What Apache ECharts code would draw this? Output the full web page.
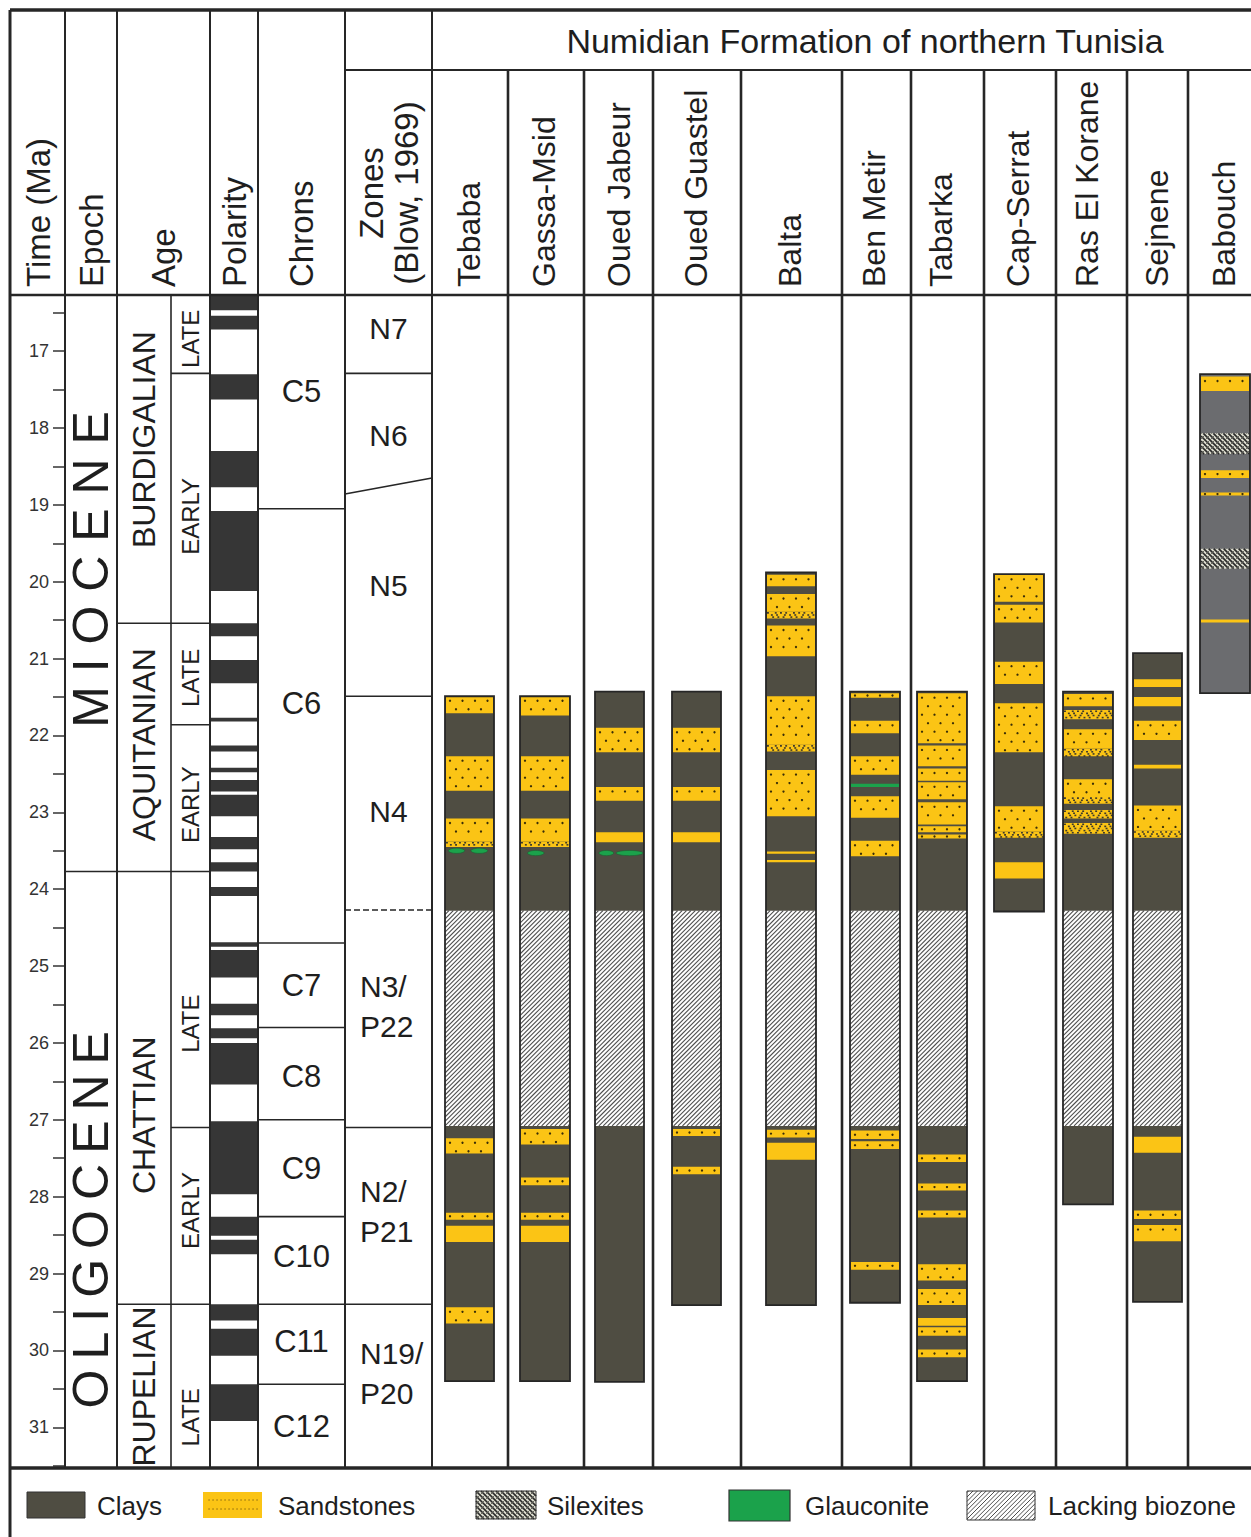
<!DOCTYPE html>
<html><head><meta charset="utf-8">
<script src="https://cdn.jsdelivr.net/npm/echarts@6/dist/echarts.min.js"></script>
<style>html,body{margin:0;padding:0;background:#fff}#chart{width:1251px;height:1537px}</style>
</head><body><div id="chart"></div>
<script>
// ================= DATA (ages in Ma) =================
const timeRange = [16.27, 31.53];
const timeTicks = [17,18,19,20,21,22,23,24,25,26,27,28,29,30,31];
const timeTickMarks = [16.5,17,17.5,18,18.5,19,19.5,20,20.5,21,21.5,22,22.5,23,23.5,24,24.5,25,25.5,26,26.5,27,27.5,28,28.5,29,29.5,30,30.5,31,31.5];

const epochNames = ['M I O C E N E', 'O\u2009L\u2009I\u2009G\u2009O\u2009C\u2009E\u2009N\u2009E'];
const epochSpans = [[16.27, 23.77], [23.77, 31.53]];
const epochLabelAt = [19.84, 28.30];

const ageNames = ['BURDIGALIAN', 'AQUITANIAN', 'CHATTIAN', 'RUPELIAN'];
const ageSpans = [[16.27, 20.54], [20.54, 23.77], [23.77, 29.40], [29.40, 31.53]];
const ageLabelAt = [18.15, 22.12, 26.94, 30.47];

const subAgeNames = ['LATE', 'EARLY', 'LATE', 'EARLY', 'LATE', 'EARLY', 'LATE'];
const subAgeSpans = [[16.27, 17.29], [17.29, 20.54], [20.54, 21.86], [21.86, 23.77], [23.77, 27.10], [27.10, 29.40], [29.40, 31.53]];
const subAgeLabelAt = [16.84, 19.15, 21.25, 22.90, 25.75, 28.18, 30.87];

// normal-polarity (black) intervals
const polarityNormal = [[16.27,16.47],[16.54,16.72],[17.30,17.63],[18.30,18.77],[19.08,20.12],[20.54,20.71],[21.02,21.32],[21.77,21.82],[22.13,22.21],[22.42,22.48],[22.58,22.73],[22.77,23.05],[23.32,23.48],[23.65,23.77],[23.97,24.09],[24.69,24.75],[24.79,25.15],[25.49,25.64],[25.81,25.94],[26.00,26.54],[27.02,27.97],[28.26,28.51],[28.56,28.75],[29.40,29.61],[29.72,30.07],[30.44,30.92]];

const chronNames = ['C5','C6','C7','C8','C9','C10','C11','C12'];
const chronSpans = [[16.27,19.05],[19.05,24.70],[24.70,25.80],[25.80,27.00],[27.00,28.26],[28.26,29.40],[29.40,30.44],[30.44,31.53]];
const chronLabelAt = [17.53, 21.58, 25.25, 26.44, 27.64, 28.78, 29.88, 30.99];

const zoneNames = ['N7','N6','N5','N4','N3/\nP22','N2/\nP21','N19/\nP20'];
const zoneLabelAt = [16.70, 18.10, 20.05, 22.99, 25.53, 28.19, 30.30];
// boundaries: [age at left edge, age at right edge, dashed]
const zoneBoundaries = [[17.29,17.29,0],[18.86,18.65,0],[21.49,21.49,0],[24.27,24.27,1],[27.10,27.10,0],[29.40,29.40,0]];

const sectionNames = ['Tebaba','Gassa-Msid','Oued Jabeur','Oued Guastel','Balta','Ben Metir','Tabarka','Cap-Serrat','Ras El Korane','Sejnene','Babouch'];
const sectionTop  = [21.49, 21.49, 21.43, 21.43, 19.88, 21.43, 21.43, 19.90, 21.43, 20.93, 17.30];
const sectionBase = [30.40, 30.40, 30.41, 29.41, 29.41, 29.38, 30.40, 24.29, 28.10, 29.37, 21.45];
// [section index, from, to]
const lackingBiozone = [[0,24.28,27.08],[1,24.28,27.08],[2,24.28,27.08],[3,24.28,27.08],[4,24.28,27.08],[5,24.28,27.08],[6,24.28,27.08],[8,24.28,27.08],[9,24.28,27.08]];

// beds: [from, to, kind]  kind 1 = sandstone, 2 = sandstone (massive), 3 = sandy clays, 4 = silexites
const bedsTebaba = [[21.49,21.71,1],[22.27,22.72,1],[23.08,23.38,1],[23.38,23.45,3],[27.24,27.44,1],[28.21,28.30,1],[28.38,28.59,1],[29.44,29.65,1]];
const bedsGassaMsid = [[21.49,21.74,1],[22.27,22.72,1],[23.08,23.38,1],[23.38,23.45,3],[27.12,27.32,1],[27.75,27.85,1],[28.21,28.30,1],[28.38,28.59,1]];
const bedsOuedJabeur = [[21.90,22.22,1],[22.67,22.85,1],[23.26,23.39,1]];
const bedsOuedGuastel = [[21.90,22.22,1],[22.67,22.85,1],[23.26,23.39,1],[27.12,27.21,1],[27.61,27.71,1]];
const bedsBalta = [[19.91,20.06,1],[20.16,20.39,1],[20.39,20.48,3],[20.57,20.97,1],[21.49,22.12,1],[22.12,22.21,3],[22.45,23.05,1],[23.51,23.54,2],[23.62,23.65,2],[27.13,27.23,1],[27.30,27.52,1]];
const bedsBenMetir = [[21.45,21.51,1],[21.81,21.97,1],[22.27,22.51,1],[22.79,23.07,1],[23.37,23.57,1],[27.14,27.25,1],[27.28,27.38,1],[28.85,28.95,1]];
const bedsTabarka = [[21.45,22.10,1],[22.13,22.40,1],[22.43,22.59,1],[22.61,22.83,1],[22.87,23.16,1],[23.18,23.26,1],[23.29,23.34,1],[27.45,27.55,1],[27.83,27.92,1],[28.18,28.27,1],[28.88,29.09,1],[29.20,29.41,1],[29.58,29.68,1],[29.70,29.81,1],[29.99,30.09,1]];
const bedsCapSerrat = [[19.91,20.26,1],[20.30,20.53,1],[21.04,21.33,1],[21.58,22.22,1],[22.92,23.25,1],[23.25,23.33,3],[23.65,23.86,2]];
const bedsRasElKorane = [[21.46,21.62,1],[21.67,21.79,3],[21.92,22.17,1],[22.17,22.27,3],[22.57,22.80,1],[22.80,22.89,3],[22.97,23.08,3],[23.14,23.28,3]];
const bedsSejnene = [[21.27,21.37,2],[21.50,21.62,2],[21.81,22.06,1],[22.38,22.43,2],[22.91,23.24,1],[23.24,23.33,3],[27.22,27.43,1],[28.18,28.29,1],[28.37,28.58,1]];
const bedsBabouch = [[17.33,17.52,1],[18.07,18.34,4],[18.55,18.65,1],[18.84,18.88,1],[19.57,19.83,4],[20.49,20.53,2]];
const sectionBeds = [bedsTebaba, bedsGassaMsid, bedsOuedJabeur, bedsOuedGuastel, bedsBalta, bedsBenMetir, bedsTabarka, bedsCapSerrat, bedsRasElKorane, bedsSejnene, bedsBabouch];

// glauconite: [section index, age, lateral start (fraction of log width), lateral end]
const glauconite = [[0,23.50,0.07,0.40],[0,23.50,0.53,0.87],[1,23.53,0.15,0.48],[2,23.53,0.08,0.38],[2,23.53,0.43,0.98],[5,22.65,0.0,1.0]];

const legendLabels = ['Clays','Sandstones','Silexites','Glauconite','Lacking biozone'];

// ================= LAYOUT & STYLE =================
const L = {
  gridLeft: 65, headerBottom: 295, legendTop: 1468, right: 1251, subHeadTop: 70,
  cols: { time:[10,65], epoch:[65,117], age:[117,171], subAge:[171,210], polarity:[210,258], chron:[258,345], zone:[345,432] },
  sectionCols: [432,508,584,653,741,842,911,984,1056,1127,1188,1251],
  bars: [[445,494],[520,570],[595,644],[672,721],[766,816],[850,900],[917,967],[994,1044],[1063,1113],[1133,1182],[1200,1250]]
};
const FONT = "'Liberation Sans', Arial, Helvetica, sans-serif";
const C = { clay:'#4f4d42', sand:'#fbc415', dot:'#3a2e08', glau:'#1ba24b', babouch:'#6b6c6f', pol:'#363636',
            line:'#262626', text:'#1e1e1e', hatch:'#4e4e4e', silexBg:'#dcdccf', speck:'#3c392c' };

// ================= helpers =================
function hatch(x0, y0, x1, y1, step, dir, stroke, lw) {
  const out = [];
  if (dir === 1) { // '/'
    for (let c = Math.ceil((x0 + y0) / step) * step; c < x1 + y1; c += step) {
      const lo = Math.max(x0, c - y1), hi = Math.min(x1, c - y0);
      if (hi > lo) out.push({ type:'line', shape:{ x1:lo, y1:c - lo, x2:hi, y2:c - hi }, style:{ stroke, lineWidth:lw } });
    }
  } else { // '\'
    for (let c = Math.ceil((y0 - x1) / step) * step; c < y1 - x0; c += step) {
      const lo = Math.max(x0, y0 - c), hi = Math.min(x1, y1 - c);
      if (hi > lo) out.push({ type:'line', shape:{ x1:lo, y1:lo + c, x2:hi, y2:hi + c }, style:{ stroke, lineWidth:lw } });
    }
  }
  return out;
}
function sandDots(x0, y0, x1, y1) {
  const out = [], h = y1 - y0, rows = [];
  if (h < 9) rows.push((y0 + y1) / 2);
  else for (let y = y0 + 4.5; y < y1 - 2; y += 8.5) rows.push(y);
  rows.forEach((y, r) => {
    for (let x = x0 + (r % 2 ? 10 : 4); x < x1 - 1.5; x += 12.5)
      out.push({ type:'circle', shape:{ cx:x, cy:y, r:1.15 }, style:{ fill:C.dot } });
  });
  return out;
}
function speckles(x0, y0, x1, y1) {
  const out = []; let r = 0;
  for (let y = y0 + 0.4; y < y1 - 0.8; y += 2.1, r++) {
    let c = 0;
    for (let x = x0 + (r * 1.3) % 2.6; x < x1 - 1.2; x += 2.6, c++) {
      if ((r * 5 + c * 3) % 7 < 3) out.push({ type:'rect', shape:{ x, y, width:1.9, height:1.6 }, style:{ fill:C.speck } });
    }
  }
  return out;
}
function silex(x0, y0, x1, y1) {
  return [{ type:'rect', shape:{ x:x0, y:y0, width:x1 - x0, height:y1 - y0 }, style:{ fill:C.silexBg } }]
    .concat(hatch(x0, y0, x1, y1, 5, -1, '#2a2a2a', 1.7))
    .concat(hatch(x0, y0, x1, y1, 5, 1, '#5a5a52', 0.9));
}
const yOf = (api, age) => api.coord([L.gridLeft, age])[1];

// ================= series =================
function intervalSeries(spans, names, labelAt, col, font) {
  return {
    type:'custom', coordinateSystem:'cartesian2d', clip:false, z:3, silent:true,
    data: spans.map((s, i) => [s[0], s[1], labelAt[i]]),
    renderItem(params, api) {
      const i = params.dataIndex, to = api.value(1);
      const ch = [];
      if (to < timeRange[1] - 1e-6) {
        const y = yOf(api, to);
        ch.push({ type:'line', shape:{ x1:col[0], y1:y, x2:col[1], y2:y }, style:{ stroke:C.line, lineWidth:1.6 } });
      }
      const name = names[i], multi = name.indexOf('\n') >= 0;
      ch.push({ type:'text', x: multi && font.multiX ? font.multiX : (col[0] + col[1]) / 2, y: yOf(api, api.value(2)),
        rotation: font.rotate ? Math.PI / 2 : 0,
        style:{ text:name, fontSize:font.size, fontFamily:FONT, fill:C.text, lineHeight:font.lh || font.size * 1.2,
                align: multi && font.multiX ? 'left' : 'center', verticalAlign:'middle' } });
      return { type:'group', children:ch };
    }
  };
}

const polaritySeries = {
  type:'custom', coordinateSystem:'cartesian2d', clip:false, z:3, silent:true,
  data: polarityNormal.map(p => [p[0], p[1]]),
  renderItem(params, api) {
    const y0 = yOf(api, api.value(0)), y1 = yOf(api, api.value(1));
    const [x0, x1] = L.cols.polarity;
    return { type:'rect', shape:{ x:x0, y:y0, width:x1 - x0, height:y1 - y0 }, style:{ fill:C.pol } };
  }
};

const zoneLineSeries = {
  type:'custom', coordinateSystem:'cartesian2d', clip:false, z:3, silent:true,
  data: zoneBoundaries.map(b => [b[0], b[1], b[2]]),
  renderItem(params, api) {
    const [x0, x1] = L.cols.zone;
    return { type:'line', shape:{ x1:x0, y1:yOf(api, api.value(0)), x2:x1, y2:yOf(api, api.value(1)) },
      style:{ stroke:C.line, lineWidth:1.6, lineDash: api.value(2) ? [6,3] : null } };
  }
};

const zoneLabelSeries = {
  type:'custom', coordinateSystem:'cartesian2d', clip:false, z:3, silent:true,
  data: zoneLabelAt.map(a => [0, a]),
  renderItem(params, api) {
    const name = zoneNames[params.dataIndex], multi = name.indexOf('\n') >= 0;
    const [x0, x1] = L.cols.zone;
    return { type:'text', x: multi ? x0 + 15 : (x0 + x1) / 2, y: yOf(api, api.value(1)),
      style:{ text:name, fontSize:30, fontFamily:FONT, fill:C.text, lineHeight:40, align: multi ? 'left' : 'center', verticalAlign:'middle' } };
  }
};

const barSeries = {
  type:'custom', coordinateSystem:'cartesian2d', clip:false, z:4, silent:true,
  data: sectionTop.map((t, i) => [i, t, sectionBase[i]]),
  renderItem(params, api) {
    const i = api.value(0), [x0, x1] = L.bars[i];
    const y0 = yOf(api, api.value(1)), y1 = yOf(api, api.value(2));
    return { type:'rect', shape:{ x:x0, y:y0, width:x1 - x0, height:y1 - y0 }, style:{ fill: sectionNames[i] === 'Babouch' ? C.babouch : C.clay } };
  }
};

const lackingSeries = {
  type:'custom', coordinateSystem:'cartesian2d', clip:false, z:5, silent:true,
  data: lackingBiozone.map(b => [b[0], b[1], b[2]]),
  renderItem(params, api) {
    const [x0, x1] = L.bars[api.value(0)];
    const y0 = yOf(api, api.value(1)), y1 = yOf(api, api.value(2));
    const ch = [{ type:'rect', shape:{ x:x0, y:y0, width:x1 - x0, height:y1 - y0 }, style:{ fill:'#ffffff' } }]
      .concat(hatch(x0, y0, x1, y1, 4.4, 1, C.hatch, 1.1));
    return { type:'group', children:ch };
  }
};

const bedData = [];
sectionBeds.forEach((beds, si) => beds.forEach(b => bedData.push([si, b[0], b[1], b[2]])));
const bedSeries = {
  type:'custom', coordinateSystem:'cartesian2d', clip:false, z:6, silent:true,
  data: bedData,
  renderItem(params, api) {
    const [bx0, bx1] = L.bars[api.value(0)];
    const x0 = bx0 + 1, x1 = bx1 - 1;
    const y0 = yOf(api, api.value(1)), y1 = yOf(api, api.value(2)), k = api.value(3);
    let ch = [];
    if (k === 4) ch = silex(x0, y0, x1, y1);
    else {
      ch.push({ type:'rect', shape:{ x:x0, y:y0, width:x1 - x0, height:y1 - y0 }, style:{ fill:C.sand } });
      if (k === 1) ch = ch.concat(sandDots(x0, y0, x1, y1));
      if (k === 3) ch = ch.concat(speckles(x0, y0, x1, y1));
    }
    return { type:'group', children:ch };
  }
};

const glauSeries = {
  type:'custom', coordinateSystem:'cartesian2d', clip:false, z:7, silent:true,
  data: glauconite.map(g => [g[0], g[1], g[2], g[3]]),
  renderItem(params, api) {
    const [bx0, bx1] = L.bars[api.value(0)], w = bx1 - bx0;
    const y = yOf(api, api.value(1));
    const a = bx0 + w * api.value(2), b = bx0 + w * api.value(3);
    if (b - a > 0.9 * w) return { type:'rect', shape:{ x:bx0 + 1, y:y - 1.7, width:w - 2, height:3.4 }, style:{ fill:C.glau } };
    return { type:'ellipse', shape:{ cx:(a + b) / 2, cy:y, rx:(b - a) / 2, ry:2.6 }, style:{ fill:C.glau, stroke:'#1d5e30', lineWidth:0.6 } };
  }
};

const outlineSeries = {
  type:'custom', coordinateSystem:'cartesian2d', clip:false, z:8, silent:true,
  data: sectionTop.map((t, i) => [i, t, sectionBase[i]]),
  renderItem(params, api) {
    const [x0, x1] = L.bars[api.value(0)];
    const y0 = yOf(api, api.value(1)), y1 = yOf(api, api.value(2));
    return { type:'rect', shape:{ x:x0, y:y0, width:x1 - x0, height:y1 - y0 }, style:{ fill:null, stroke:'#262626', lineWidth:1.8 } };
  }
};

// ================= static frame, headers & legend (graphic) =================
const G = [];
const ln = (x1, y1, x2, y2, w) => G.push({ type:'line', z:100, silent:true, shape:{ x1, y1, x2, y2 }, style:{ stroke:C.line, lineWidth:w } });
ln(10, 10, 1251, 10, 3.5);
ln(10, 10, 10, 1537, 3);
ln(10, 1468, 1251, 1468, 3.5);
ln(10, 295, 1251, 295, 2.5);
[65, 117, 210, 258, 345, 432].forEach(x => ln(x, 10, x, 1468, 2));
ln(171, 295, 171, 1468, 1.6);
ln(345, 70, 1251, 70, 2);
L.sectionCols.slice(1, -1).forEach(x => ln(x, 70, x, 1468, 2.6));

const vText = (text, x, y, size, align) => G.push({ type:'text', z:101, silent:true, x, y, rotation:Math.PI / 2,
  style:{ text, fontSize:size, fontFamily:FONT, fill:C.text, align:align || 'left', verticalAlign:'middle', lineHeight:size * 1.08 } });
vText('Time (Ma)', 38, 287, 33);
vText('Epoch', 91, 287, 33);
vText('Age', 163, 287, 33);
vText('Polarity', 234, 287, 33);
vText('Chrons', 301, 287, 33);
vText('Zones\n(Blow, 1969)', 389, 193, 33, 'center');
sectionNames.forEach((n, i) => vText(n, (L.bars[i][0] + L.bars[i][1]) / 2 - 1, 287, 32));
G.push({ type:'text', z:101, silent:true, x:865, y:41,
  style:{ text:'Numidian Formation of northern Tunisia', fontSize:34, fontFamily:FONT, fill:C.text, align:'center', verticalAlign:'middle' } });

// legend
const LG = [];
const sw = [[27,1492,58,26],[203,1492,59,26],[476,1491,60,28],[729,1490,61,31],[967,1491,68,29]];
const lgText = [97, 278, 547, 805, 1048];
LG.push({ type:'rect', shape:{ x:sw[0][0], y:sw[0][1], width:sw[0][2], height:sw[0][3] }, style:{ fill:C.clay, stroke:'#333', lineWidth:1 } });
LG.push({ type:'rect', shape:{ x:sw[1][0], y:sw[1][1], width:sw[1][2], height:sw[1][3] }, style:{ fill:C.sand } });
[1500, 1509].forEach(y => { for (let x = sw[1][0] + 6; x < sw[1][0] + sw[1][2] - 3; x += 4)
  LG.push({ type:'circle', shape:{ cx:x, cy:y, r:0.7 }, style:{ fill:'#8a6a10' } }); });
silex(sw[2][0], sw[2][1], sw[2][0] + sw[2][2], sw[2][1] + sw[2][3]).forEach(e => LG.push(e));
LG.push({ type:'rect', shape:{ x:sw[2][0], y:sw[2][1], width:sw[2][2], height:sw[2][3] }, style:{ fill:null, stroke:'#333', lineWidth:1 } });
LG.push({ type:'rect', shape:{ x:sw[3][0], y:sw[3][1], width:sw[3][2], height:sw[3][3] }, style:{ fill:C.glau, stroke:'#333', lineWidth:1.2 } });
hatch(sw[4][0], sw[4][1], sw[4][0] + sw[4][2], sw[4][1] + sw[4][3], 4.4, 1, C.hatch, 1).forEach(e => LG.push(e));
LG.push({ type:'rect', shape:{ x:sw[4][0], y:sw[4][1], width:sw[4][2], height:sw[4][3] }, style:{ fill:null, stroke:'#333', lineWidth:1 } });
legendLabels.forEach((t, i) => LG.push({ type:'text', x:lgText[i], y:1506,
  style:{ text:t, fontSize:26, fontFamily:FONT, fill:C.text, align:'left', verticalAlign:'middle' } }));
G.push({ type:'group', z:101, silent:true, children:LG });

// ================= chart =================
const chart = echarts.init(document.getElementById('chart'), null, { renderer:'svg', width:1251, height:1537 });
chart.setOption({
  backgroundColor:'#ffffff',
  animation:false,
  grid:{ left:L.gridLeft, right:0, top:L.headerBottom, bottom:1537 - L.legendTop, containLabel:false },
  xAxis:{ type:'value', min:L.gridLeft, max:L.right, show:false },
  yAxis:{ type:'value', inverse:true, min:timeRange[0], max:timeRange[1],
    axisLine:{ show:true, lineStyle:{ color:C.line, width:2 } },
    axisTick:{ show:true, length:12, customValues:timeTickMarks, lineStyle:{ color:'#333', width:1.5 } },
    axisLabel:{ customValues:timeTicks, margin:16, fontSize:18, color:'#333', fontFamily:FONT },
    splitLine:{ show:false } },
  series:[
    intervalSeries(epochSpans, epochNames, epochLabelAt, L.cols.epoch, { size:50, rotate:true }),
    intervalSeries(ageSpans, ageNames, ageLabelAt, L.cols.age, { size:32, rotate:true }),
    intervalSeries(subAgeSpans, subAgeNames, subAgeLabelAt, L.cols.subAge, { size:24, rotate:true }),
    polaritySeries,
    intervalSeries(chronSpans, chronNames, chronLabelAt, L.cols.chron, { size:31 }),
    zoneLabelSeries,
    zoneLineSeries,
    barSeries, lackingSeries, bedSeries, glauSeries, outlineSeries
  ],
  graphic:{ elements:G }
});
</script></body></html>
